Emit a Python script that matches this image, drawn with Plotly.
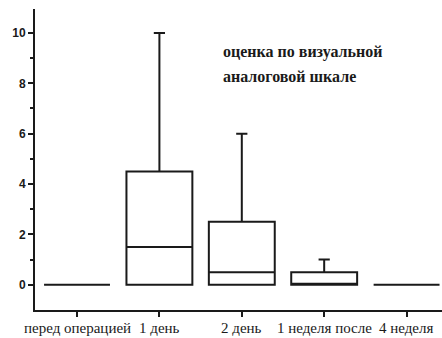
import plotly.graph_objects as go

categories = ["перед операцией", "1 день", "2 день", "1 неделя после", "4 неделя"]
positions = [0, 1, 2, 3, 4]
lower = [0, 0, 0, 0, 0]
q1 = [0, 0, 0, 0, 0]
median = [0, 1.5, 0.5, 0, 0]
q3 = [0, 4.5, 2.5, 0.5, 0]
upper = [0, 10, 6, 1, 0]
y_ticks = [0, 2, 4, 6, 8, 10]
title_lines = ["оценка по визуальной", "аналоговой шкале"]

SERIF = "Liberation Serif"
SANS = "Liberation Sans"
INK = "#1a1a1a"

W, H = 442, 338
ml, mr, mt, mb = 35, 0, 9, 28
pw, ph = W - ml - mr, H - mt - mb

fig = go.Figure()
fig.add_trace(go.Box(
    x=positions, q1=q1, median=median, q3=q3,
    lowerfence=lower, upperfence=upper,
    width=0.8, whiskerwidth=0.17,
    line=dict(color=INK, width=2),
    fillcolor="rgba(255,255,255,0)",
    boxpoints=False, showlegend=False, hoverinfo="skip",
))

for i, line in enumerate(title_lines):
    fig.add_annotation(
        x=(221 - ml) / pw, y=(H - mb - (52 + 24 * i)) / ph, xref="paper", yref="paper", text=line,
        showarrow=False, align="left", xanchor="left", yanchor="middle",
        font=dict(family=SERIF, size=16, color=INK, weight="bold"),
    )

# category labels as annotations under each tick
for p, label in zip(positions, categories):
    fig.add_annotation(
        x=p, xref="x", y=-18 / ph, yref="paper", text=label,
        showarrow=False, xanchor="center", yanchor="middle",
        font=dict(family=SERIF, size=15, color=INK),
    )

fig.update_layout(
    width=W, height=H,
    margin=dict(l=ml, r=mr, t=mt, b=mb, autoexpand=False),
    plot_bgcolor="white", paper_bgcolor="white",
    xaxis=dict(
        range=[-0.51, 4.43], tickmode="array", tickvals=positions, showticklabels=False,
        showgrid=False, zeroline=False, showline=True, linecolor=INK, linewidth=2,
        ticks="outside", ticklen=5, tickwidth=2, tickcolor=INK, automargin=False,
    ),
    yaxis=dict(
        range=[-1, 10.95], tickmode="array", tickvals=y_ticks, automargin=False,
        showgrid=False, zeroline=False, showline=True, linecolor=INK, linewidth=2,
        ticks="outside", ticklen=5, tickwidth=2, tickcolor=INK,
        tickfont=dict(family=SANS, size=12, color=INK, weight="bold"),
        minor=dict(tickvals=[1, 3, 5, 7, 9], ticks="outside", ticklen=3, tickwidth=2, tickcolor=INK),
    ),
)

fig.write_html(
    "out.html",
    post_script=(
        "document.body.style.margin='0';document.body.style.overflow='hidden';"
        "var mb=document.querySelectorAll('.modebar-container');mb.forEach(function(e){e.style.display='none';});"
    ),
)
